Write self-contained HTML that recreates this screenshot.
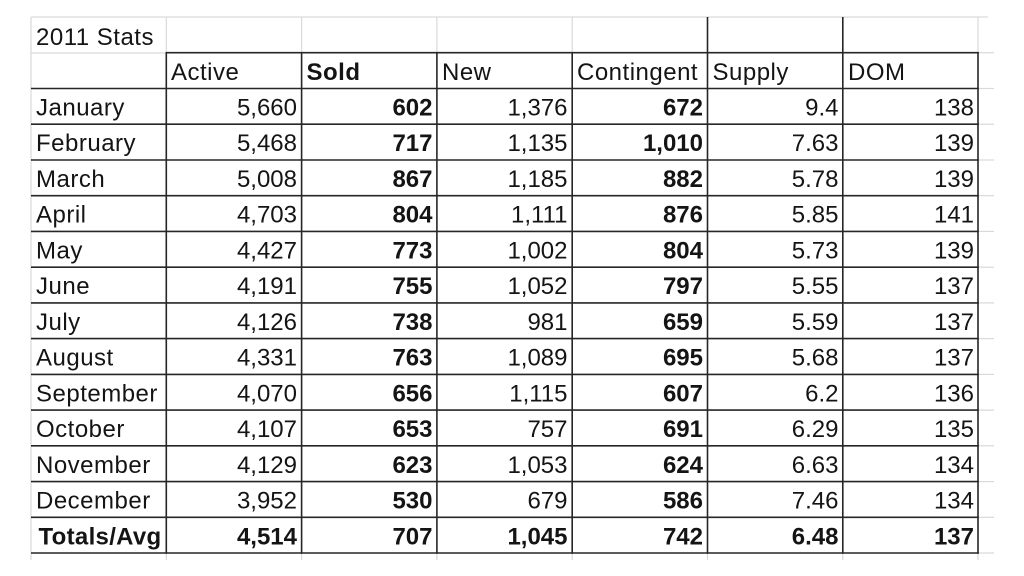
<!DOCTYPE html>
<html>
<head>
<meta charset="utf-8">
<style>
html,body{margin:0;padding:0;background:#fff;}
svg{display:block;}
text{font-family:"Liberation Sans",Arial,sans-serif;font-size:24px;fill:#141414;}
.b{font-weight:bold;}
.r{text-anchor:end;}
.w{letter-spacing:0.5px;}
</style>
</head>
<body>
<svg width="1024" height="576" viewBox="0 0 1024 576" xmlns="http://www.w3.org/2000/svg">
<g stroke="#d9d9d9" stroke-width="1.2" fill="none">
  <line x1="31" y1="17" x2="988" y2="17"/>
  <line x1="31" y1="17" x2="31" y2="560"/>
  <line x1="31" y1="53" x2="166" y2="53"/>
  <line x1="166.3" y1="17" x2="166.3" y2="53"/>
  <line x1="301.6" y1="17" x2="301.6" y2="53"/>
  <line x1="436.9" y1="17" x2="436.9" y2="53"/>
  <line x1="572.2" y1="17" x2="572.2" y2="53"/>
  <line x1="978" y1="17" x2="978" y2="53"/>
  <line x1="978" y1="52.7" x2="994" y2="52.7"/>
  <line x1="978" y1="88.5" x2="994" y2="88.5"/>
  <line x1="978" y1="124.2" x2="994" y2="124.2"/>
  <line x1="978" y1="160" x2="994" y2="160"/>
  <line x1="978" y1="195.7" x2="994" y2="195.7"/>
  <line x1="978" y1="231.4" x2="994" y2="231.4"/>
  <line x1="978" y1="267.2" x2="994" y2="267.2"/>
  <line x1="978" y1="302.9" x2="994" y2="302.9"/>
  <line x1="978" y1="338.6" x2="994" y2="338.6"/>
  <line x1="978" y1="374.4" x2="994" y2="374.4"/>
  <line x1="978" y1="410.1" x2="994" y2="410.1"/>
  <line x1="978" y1="445.8" x2="994" y2="445.8"/>
  <line x1="978" y1="481.6" x2="994" y2="481.6"/>
  <line x1="978" y1="517.3" x2="994" y2="517.3"/>
  <line x1="978" y1="553" x2="994" y2="553"/>
  <line x1="166.3" y1="553" x2="166.3" y2="560"/>
  <line x1="301.6" y1="553" x2="301.6" y2="560"/>
  <line x1="436.9" y1="553" x2="436.9" y2="560"/>
  <line x1="572.2" y1="553" x2="572.2" y2="560"/>
  <line x1="707.5" y1="553" x2="707.5" y2="560"/>
  <line x1="842.8" y1="553" x2="842.8" y2="560"/>
  <line x1="978" y1="553" x2="978" y2="560"/>
</g>
<g stroke="#262626" stroke-width="1.6" fill="none">
  <line x1="166" y1="52.7" x2="978.8" y2="52.7"/>
  <line x1="31" y1="88.5" x2="978.8" y2="88.5"/>
  <line x1="31" y1="124.2" x2="978.8" y2="124.2"/>
  <line x1="31" y1="160" x2="978.8" y2="160"/>
  <line x1="31" y1="195.7" x2="978.8" y2="195.7"/>
  <line x1="31" y1="231.4" x2="978.8" y2="231.4"/>
  <line x1="31" y1="267.2" x2="978.8" y2="267.2"/>
  <line x1="31" y1="302.9" x2="978.8" y2="302.9"/>
  <line x1="31" y1="338.6" x2="978.8" y2="338.6"/>
  <line x1="31" y1="374.4" x2="978.8" y2="374.4"/>
  <line x1="31" y1="410.1" x2="978.8" y2="410.1"/>
  <line x1="31" y1="445.8" x2="978.8" y2="445.8"/>
  <line x1="31" y1="481.6" x2="978.8" y2="481.6"/>
  <line x1="31" y1="517.3" x2="978.8" y2="517.3"/>
  <line x1="31" y1="553" x2="978.8" y2="553"/>
  <line x1="166.3" y1="52" x2="166.3" y2="553.8"/>
  <line x1="301.6" y1="52" x2="301.6" y2="553.8"/>
  <line x1="436.9" y1="52" x2="436.9" y2="553.8"/>
  <line x1="572.2" y1="52" x2="572.2" y2="553.8"/>
  <line x1="707.5" y1="17" x2="707.5" y2="553.8"/>
  <line x1="842.8" y1="17" x2="842.8" y2="553.8"/>
  <line x1="978" y1="52" x2="978" y2="553.8"/>
</g>

<text x="36" y="45" class="w">2011 Stats</text>

<text x="171" y="80" class="w">Active</text>
<text x="306.5" y="80" class="b w">Sold</text>
<text x="442" y="80" class="w">New</text>
<text x="577" y="80" class="w">Contingent</text>
<text x="712.5" y="80" class="w">Supply</text>
<text x="848" y="80" class="w">DOM</text>

<g>
<text x="36" y="115.5" class="w">January</text>
<text x="36" y="151.2" class="w">February</text>
<text x="36" y="187" class="w">March</text>
<text x="36" y="222.7" class="w">April</text>
<text x="36" y="258.4" class="w">May</text>
<text x="36" y="294.2" class="w">June</text>
<text x="36" y="329.9" class="w">July</text>
<text x="36" y="365.6" class="w">August</text>
<text x="36" y="401.4" class="w">September</text>
<text x="36" y="437.1" class="w">October</text>
<text x="36" y="472.8" class="w">November</text>
<text x="36" y="508.6" class="w">December</text>
<text x="38.5" y="544.3" class="b" style="letter-spacing:0.3px">Totals/Avg</text>
</g>

<g>
<text x="297" y="115.5" class="r">5,660</text>
<text x="297" y="151.2" class="r">5,468</text>
<text x="297" y="187" class="r">5,008</text>
<text x="297" y="222.7" class="r">4,703</text>
<text x="297" y="258.4" class="r">4,427</text>
<text x="297" y="294.2" class="r">4,191</text>
<text x="297" y="329.9" class="r">4,126</text>
<text x="297" y="365.6" class="r">4,331</text>
<text x="297" y="401.4" class="r">4,070</text>
<text x="297" y="437.1" class="r">4,107</text>
<text x="297" y="472.8" class="r">4,129</text>
<text x="297" y="508.6" class="r">3,952</text>
<text x="297" y="544.3" class="r b">4,514</text>

<text x="432.5" y="115.5" class="r b">602</text>
<text x="432.5" y="151.2" class="r b">717</text>
<text x="432.5" y="187" class="r b">867</text>
<text x="432.5" y="222.7" class="r b">804</text>
<text x="432.5" y="258.4" class="r b">773</text>
<text x="432.5" y="294.2" class="r b">755</text>
<text x="432.5" y="329.9" class="r b">738</text>
<text x="432.5" y="365.6" class="r b">763</text>
<text x="432.5" y="401.4" class="r b">656</text>
<text x="432.5" y="437.1" class="r b">653</text>
<text x="432.5" y="472.8" class="r b">623</text>
<text x="432.5" y="508.6" class="r b">530</text>
<text x="432.5" y="544.3" class="r b">707</text>

<text x="567.5" y="115.5" class="r">1,376</text>
<text x="567.5" y="151.2" class="r">1,135</text>
<text x="567.5" y="187" class="r">1,185</text>
<text x="567.5" y="222.7" class="r">1,111</text>
<text x="567.5" y="258.4" class="r">1,002</text>
<text x="567.5" y="294.2" class="r">1,052</text>
<text x="567.5" y="329.9" class="r">981</text>
<text x="567.5" y="365.6" class="r">1,089</text>
<text x="567.5" y="401.4" class="r">1,115</text>
<text x="567.5" y="437.1" class="r">757</text>
<text x="567.5" y="472.8" class="r">1,053</text>
<text x="567.5" y="508.6" class="r">679</text>
<text x="567.5" y="544.3" class="r b">1,045</text>

<text x="703" y="115.5" class="r b">672</text>
<text x="703" y="151.2" class="r b">1,010</text>
<text x="703" y="187" class="r b">882</text>
<text x="703" y="222.7" class="r b">876</text>
<text x="703" y="258.4" class="r b">804</text>
<text x="703" y="294.2" class="r b">797</text>
<text x="703" y="329.9" class="r b">659</text>
<text x="703" y="365.6" class="r b">695</text>
<text x="703" y="401.4" class="r b">607</text>
<text x="703" y="437.1" class="r b">691</text>
<text x="703" y="472.8" class="r b">624</text>
<text x="703" y="508.6" class="r b">586</text>
<text x="703" y="544.3" class="r b">742</text>

<text x="838.5" y="115.5" class="r">9.4</text>
<text x="838.5" y="151.2" class="r">7.63</text>
<text x="838.5" y="187" class="r">5.78</text>
<text x="838.5" y="222.7" class="r">5.85</text>
<text x="838.5" y="258.4" class="r">5.73</text>
<text x="838.5" y="294.2" class="r">5.55</text>
<text x="838.5" y="329.9" class="r">5.59</text>
<text x="838.5" y="365.6" class="r">5.68</text>
<text x="838.5" y="401.4" class="r">6.2</text>
<text x="838.5" y="437.1" class="r">6.29</text>
<text x="838.5" y="472.8" class="r">6.63</text>
<text x="838.5" y="508.6" class="r">7.46</text>
<text x="838.5" y="544.3" class="r b">6.48</text>

<text x="974" y="115.5" class="r">138</text>
<text x="974" y="151.2" class="r">139</text>
<text x="974" y="187" class="r">139</text>
<text x="974" y="222.7" class="r">141</text>
<text x="974" y="258.4" class="r">139</text>
<text x="974" y="294.2" class="r">137</text>
<text x="974" y="329.9" class="r">137</text>
<text x="974" y="365.6" class="r">137</text>
<text x="974" y="401.4" class="r">136</text>
<text x="974" y="437.1" class="r">135</text>
<text x="974" y="472.8" class="r">134</text>
<text x="974" y="508.6" class="r">134</text>
<text x="974" y="544.3" class="r b">137</text>
</g>
</svg>
</body>
</html>
